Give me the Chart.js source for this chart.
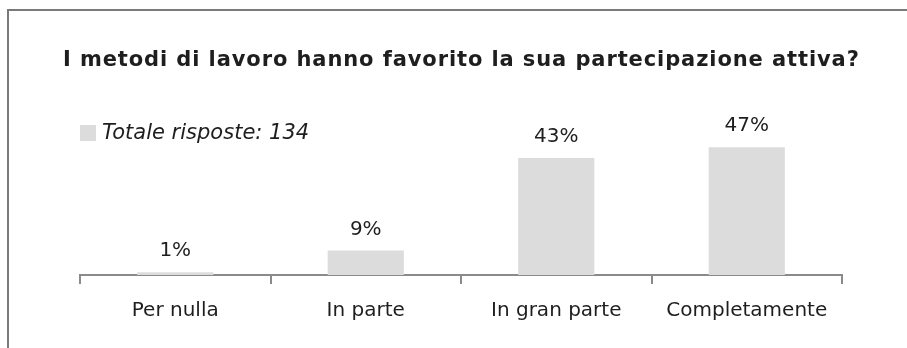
<!DOCTYPE html>
<html>
<head>
<meta charset="utf-8">
<script src="https://cdn.jsdelivr.net/npm/chart.js@4/dist/chart.umd.min.js"></script>
<style>
  html, body { margin: 0; padding: 0; background: #fff; }
  #wrap { width: 907px; height: 348px; position: relative; }
</style>
</head>
<body>
<div id="wrap"><canvas id="c" width="907" height="348"></canvas></div>
<script>
const titleText = "I metodi di lavoro hanno favorito la sua partecipazione attiva?";
const categories = ["Per nulla", "In parte", "In gran parte", "Completamente"];
const seriesName = "Totale risposte: 134";
const percentages = [1, 9, 43, 47];

const FONT = "'DejaVu Sans', Verdana, sans-serif";
const TEXT = "#1e1e1e";
const BAR = "#dcdcdc";

const decorPlugin = {
  id: "decor",
  beforeDraw(chart) {
    const ctx = chart.ctx;
    ctx.save();
    ctx.fillStyle = "#fff";
    ctx.fillRect(0, 0, chart.width, chart.height);
    // frame (top + left)
    ctx.strokeStyle = "#7a7a7a";
    ctx.lineWidth = 2;
    ctx.beginPath();
    ctx.moveTo(8, chart.height);
    ctx.lineTo(8, 10);
    ctx.lineTo(chart.width, 10);
    ctx.stroke();
    // title
    ctx.fillStyle = TEXT;
    ctx.font = "bold 21px " + FONT;
    ctx.letterSpacing = "0.9px";
    ctx.textBaseline = "middle";
    ctx.textAlign = "left";
    ctx.fillText(titleText, 63, 61);
    ctx.letterSpacing = "0px";
    // legend
    ctx.fillStyle = BAR;
    ctx.fillRect(80, 125, 16, 16);
    ctx.fillStyle = TEXT;
    ctx.font = "italic 21px " + FONT;
    ctx.fillText(seriesName, 102, 134);
    ctx.restore();
  },
  afterDatasetsDraw(chart) {
    const ctx = chart.ctx;
    const meta = chart.getDatasetMeta(0);
    ctx.save();
    ctx.fillStyle = TEXT;
    ctx.font = "20px " + FONT;
    ctx.textAlign = "center";
    ctx.textBaseline = "middle";
    meta.data.forEach((bar, i) => {
      ctx.fillText(percentages[i] + "%", bar.x, bar.y - 21);
    });
    ctx.restore();
  }
};

new Chart(document.getElementById("c"), {
  type: "bar",
  data: {
    labels: categories,
    datasets: [{
      label: seriesName,
      data: percentages,
      backgroundColor: BAR,
      borderWidth: 0,
      categoryPercentage: 1,
      barPercentage: 0.4
    }]
  },
  options: {
    responsive: false,
    animation: false,
    devicePixelRatio: 1,
    layout: { padding: { left: 80, right: 65, top: 139, bottom: 10 } },
    plugins: {
      legend: { display: false },
      title: { display: false },
      tooltip: { enabled: false }
    },
    scales: {
      y: { display: false, min: 0, max: 50 },
      x: {
        offset: true,
        border: { display: true, color: "#8a8a8a", width: 2 },
        grid: {
          display: true,
          offset: true,
          drawOnChartArea: false,
          drawTicks: true,
          tickLength: 9,
          color: "#8a8a8a",
          lineWidth: 2
        },
        ticks: {
          color: TEXT,
          font: { family: FONT, size: 20 },
          padding: 15,
          maxRotation: 0
        }
      }
    }
  },
  plugins: [decorPlugin]
});
</script>
</body>
</html>
